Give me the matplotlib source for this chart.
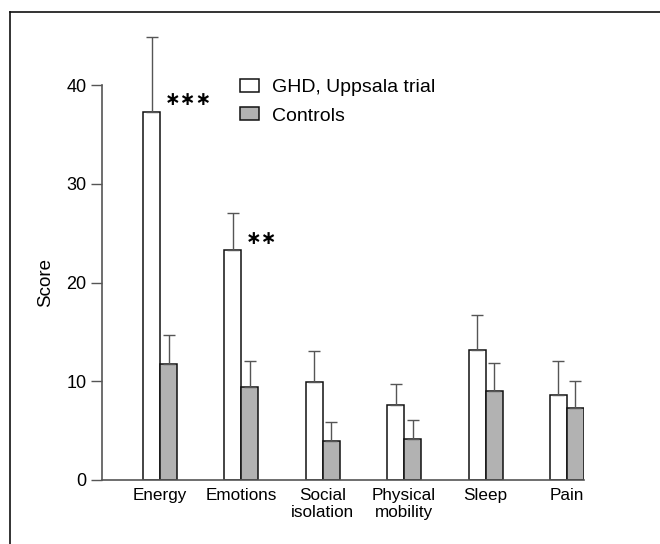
import matplotlib
matplotlib.use("Agg")
import matplotlib.pyplot as plt
import numpy as np
from matplotlib.lines import Line2D

categories = ["Energy", "Emotions", "Social\nisolation", "Physical\nmobility", "Sleep", "Pain"]
ghd = [37.3, 23.3, 9.9, 7.6, 13.2, 8.6]
ghd_err = [7.6, 3.7, 3.2, 2.1, 3.5, 3.5]
ctrl = [11.7, 9.4, 4.0, 4.2, 9.0, 7.3]
ctrl_err = [3.0, 2.7, 1.9, 1.9, 2.8, 2.7]
stars = ["∗∗∗", "∗∗", "", "", "", ""]
yticks = [0, 10, 20, 30, 40]
series_labels = ["GHD, Uppsala trial", "Controls"]

plt.rcParams['font.family'] = ['Liberation Sans', 'DejaVu Sans']

W, H = 660, 544
fig = plt.figure(figsize=(W / 100, H / 100), dpi=100)
ax = fig.add_axes([102 / W, 64 / H, (584 - 102) / W, (480 - 85) / H])

x = np.arange(len(categories))
bw = 0.209
zeros = [0] * len(categories)
ek = dict(ecolor='#555555', elinewidth=1.0, capsize=4.3, capthick=1.0)

b1 = ax.bar(x - bw / 2, ghd, bw, color='white', edgecolor='#111111', linewidth=1.1,
            yerr=[zeros, ghd_err], error_kw=ek, label=series_labels[0], zorder=2)
b2 = ax.bar(x + bw / 2, ctrl, bw, color='#b2b2b2', edgecolor='#111111', linewidth=1.1,
            yerr=[zeros, ctrl_err], error_kw=ek, label=series_labels[1], zorder=2)
for cont in (b1, b2):
    for obj in list(cont.errorbar.lines[1]) + list(cont.errorbar.lines[2]):
        obj.set_clip_on(False)

for i, s in enumerate(stars):
    if s:
        ax.text(x[i] - bw / 2 + 0.16, ghd[i] + 1.2, s, ha='left', va='center',
                fontsize=13.5, fontweight='bold', family=['DejaVu Sans'], clip_on=False)

ax.set_xlim(-0.714, 5.21)
ax.set_ylim(0, 40)
ax.set_yticks(yticks)
ax.set_xticks(x)
ax.set_xticklabels(categories, fontsize=12.3, linespacing=1.15)
ax.tick_params(axis='x', length=0, pad=6)
ax.tick_params(axis='y', length=8, width=1.0, color='#555555', labelsize=13, pad=3, direction='out')
for side in ['top', 'right']:
    ax.spines[side].set_visible(False)
for side in ['left', 'bottom']:
    ax.spines[side].set_color('#555555')
    ax.spines[side].set_linewidth(1.2)

ax.set_ylabel("Score", fontsize=13.5)
ax.yaxis.set_label_coords(-(102 - 54) / 482, 0.5)

ax.legend(loc='upper left', bbox_to_anchor=(240 / W, 1 - 79 / H), bbox_transform=fig.transFigure,
          frameon=False, fontsize=14, handlelength=0.98, handleheight=0.67,
          handletextpad=0.67, labelspacing=0.55, borderpad=0, borderaxespad=0)

fig.add_artist(Line2D([10 / W, 1.0], [1 - 12 / H, 1 - 12 / H], transform=fig.transFigure,
                      color='#111111', linewidth=1.2))
fig.add_artist(Line2D([10 / W, 10 / W], [0, 1 - 12 / H], transform=fig.transFigure,
                      color='#111111', linewidth=1.2))

fig.savefig("out.png", dpi=100)
